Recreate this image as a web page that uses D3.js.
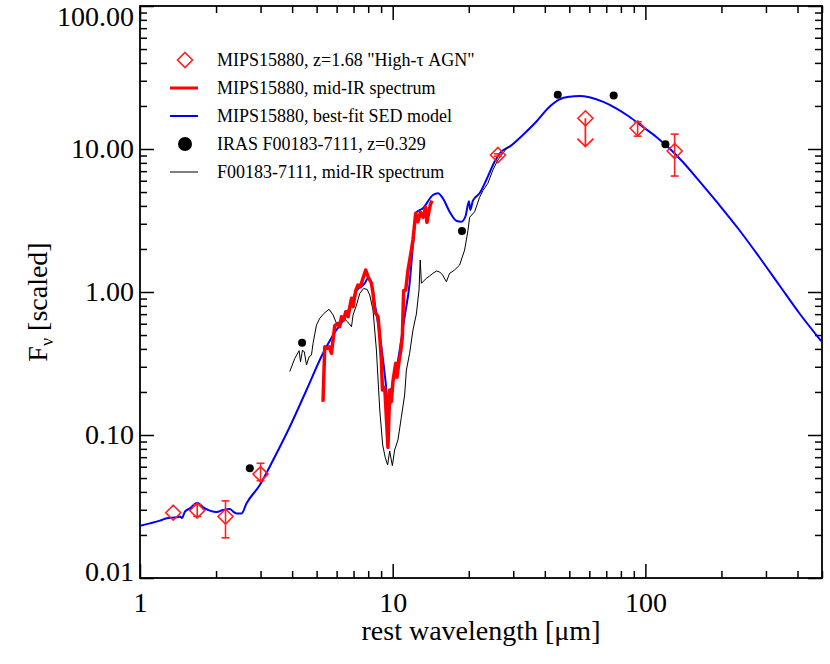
<!DOCTYPE html>
<html>
<head>
<meta charset="utf-8">
<script src="https://cdn.jsdelivr.net/npm/d3@7"></script>
<style>
  body { margin: 0; background: #fff; }
  svg { display: block; }
  text { font-family: "Liberation Serif", "DejaVu Serif", serif; }
</style>
</head>
<body>
<svg id="chart" width="830" height="664"></svg>
<script>
// best-fit SED model  [rest wavelength (um), F_nu]
const sedModel = [
  [1.00,0.0232],[1.095,0.0241],[1.20,0.0252],[1.275,0.0262],[1.397,0.0266],[1.439,0.0269],[1.466,0.0263],
  [1.506,0.0291],[1.576,0.0307],[1.684,0.0336],[1.779,0.0312],[1.891,0.0296],[2.01,0.0289],[2.134,0.0299],
  [2.268,0.0304],[2.338,0.0291],[2.411,0.0283],[2.523,0.0283],[2.641,0.0333],[2.98,0.0447],[3.365,0.0669],
  [3.916,0.1143],[4.56,0.2064],[5.30,0.3726],[5.81,0.5005],[6.56,0.6906],[7.19,1.021],[7.75,1.150],
  [7.99,1.247],[8.24,1.150],[8.49,0.834],[8.75,0.604],[9.16,0.3345],[9.44,0.2064],[9.58,0.1496],
  [9.69,0.145],[9.88,0.204],[10.28,0.270],[10.66,0.393],[11.15,0.672],[11.67,1.150],[12.03,2.13],
  [12.41,3.61],[13.18,3.85],[14.43,4.77],[15.10,4.90],[15.80,4.52],[16.80,3.64],[17.86,3.15],
  [18.69,3.10],[19.43,3.40],[20.03,4.31],[20.28,3.75],[20.77,4.35],[22.07,4.90],[23.47,6.07],
  [25.30,8.15],[26.89,9.57],[29.01,10.38],[32.73,12.53],[36.98,15.52],[41.74,19.76],[45.72,22.27],
  [50.07,23.21],[54.83,23.48],[60.07,22.99],[67.80,21.42],[76.61,19.26],[86.47,16.82],[97.57,14.32],
  [110.2,12.19],[124.4,10.11],[140.4,8.15],[163.5,5.97],[196.1,4.06],[235.3,2.714],[282.2,1.757],
  [338.5,1.119],[406.1,0.713],[496.3,0.454]
];

// MIPS15880 mid-IR spectrum
const mipsSpec = [
  [5.30,0.171],[5.385,0.414],[5.499,0.404],[5.60,0.414],[5.724,0.373],[5.899,0.581],[6.078,0.604],
  [6.173,0.572],[6.269,0.672],[6.402,0.637],[6.52,0.728],[6.66,0.672],[6.87,0.903],[6.97,0.789],
  [7.14,1.021],[7.29,1.119],[7.45,1.089],[7.59,1.213],[7.82,1.425],[7.99,1.279],[8.24,1.150],
  [8.36,0.979],[8.49,0.728],[8.75,0.672],[8.89,0.487],[9.02,0.3345],[9.11,0.2064],[9.30,0.2157],
  [9.44,0.133],[9.58,0.082],[9.73,0.2064],[9.88,0.171],[10.03,0.2397],[10.28,0.317],[10.40,0.2532],
  [10.59,0.3256],[10.75,0.3805],[10.92,0.487],[11.05,1.021],[11.26,1.033],[11.50,1.425],[11.86,1.966],
  [12.03,2.31],[12.33,3.55],[12.59,3.10],[12.87,3.61],[13.18,3.33],[13.50,3.91],[13.66,3.07],
  [13.91,3.64],[14.09,4.06],[14.30,4.35]
];

// F00183-7111 mid-IR spectrum
const irasSpec = [
  [3.916,0.278],[4.10,0.344],[4.262,0.3886],[4.317,0.3256],[4.397,0.393],[4.47,0.3805],[4.56,0.3087],
  [4.67,0.3529],[4.77,0.3625],[4.84,0.4378],[4.994,0.5877],[5.147,0.655],[5.352,0.710],[5.60,0.757],
  [5.81,0.691],[5.99,0.604],[6.17,0.617],[6.40,0.658],[6.64,0.617],[6.87,0.572],[6.97,0.691],
  [7.19,0.811],[7.41,0.979],[7.68,1.058],[7.93,1.041],[8.11,0.953],[8.36,0.748],[8.62,0.393],
  [8.89,0.1496],[9.13,0.0851],[9.34,0.0698],[9.55,0.0617],[9.73,0.0773],[9.97,0.061],[10.18,0.0786],
  [10.49,0.0923],[10.82,0.133],[11.15,0.1905],[11.33,0.2848],[11.67,0.3726],[12.03,0.5425],
  [12.41,0.702],[12.71,1.033],[12.85,1.674],[12.99,1.150],[13.59,1.247],[14.00,1.294],[14.43,1.351],
  [14.92,1.403],[15.34,1.380],[15.76,1.315],[16.31,1.180],[16.80,1.351],[17.58,1.425],[18.40,1.544],
  [19.26,1.966],[19.85,2.684],[20.16,3.33],[21.10,3.64],[22.07,4.59],[22.75,5.11],[23.81,5.76],
  [24.91,7.13],[26.08,8.38],[27.29,9.33],[28.56,10.38]
];

// MIPS15880 photometry: wavelength, flux, lower, upper
const photLam = [1.354, 1.684, 2.18, 3.0, 26.1, 93.2, 130.6];
const photF   = [0.0286, 0.0296, 0.0269, 0.0533, 9.08, 13.96, 9.68];
const photLo  = [0.0286, 0.0270, 0.0191, 0.0479, 8.90, 12.3, 6.47];
const photHi  = [0.0286, 0.0326, 0.0346, 0.0634, 9.25, 15.5, 12.7];

// upper limit: wavelength, limit, arrow tip
const limLam = [57.9];
const limF   = [16.4];
const limTip = [10.4];

// IRAS F00183-7111 photometry
const irasLam = [2.72, 4.38, 18.8, 45.0, 74.9, 120];
const irasF   = [0.0585, 0.442, 2.67, 24.0, 23.7, 10.8];

const yTickLabels = ['0.01', '0.10', '1.00', '10.00', '100.00'];
const xTickLabels = ['1', '10', '100'];

const legendLabels = [
  'MIPS15880, z=1.68 "High-\u03c4 AGN"',
  'MIPS15880, mid-IR spectrum',
  'MIPS15880, best-fit SED model',
  'IRAS F00183-7111, z=0.329',
  'F00183-7111, mid-IR spectrum'
];

const mLeft = 140, mRight = 822, mTop = 6, mBottom = 578;

const x = d3.scaleLog().domain([1, 500]).range([mLeft, mRight]);
const y = d3.scaleLog().domain([0.01, 100]).range([mBottom, mTop]);

const svg = d3.select('#chart');

svg.append('clipPath').attr('id', 'clip')
  .append('rect')
  .attr('x', mLeft).attr('y', mTop)
  .attr('width', mRight - mLeft).attr('height', mBottom - mTop);

const xMajor = [1, 10, 100];
const xMinor = x.ticks().filter(d => !xMajor.includes(d));
const yMajor = [0.01, 0.1, 1, 10, 100];
const yMinor = y.ticks().filter(d => !yMajor.some(m => Math.abs(m - d) < 1e-9));

function styleAxis(g) {
  g.selectAll('path').remove();
  g.selectAll('line').attr('stroke', '#000').attr('stroke-width', 1.5);
  g.selectAll('text').attr('fill', '#000').attr('font-size', 28)
    .attr('font-family', '"Liberation Serif", serif');
}

// bottom axis
svg.append('g').attr('transform', `translate(0,${mBottom})`)
  .call(d3.axisBottom(x).tickValues(xMajor).tickSize(-14).tickPadding(14)
    .tickFormat((d, i) => xTickLabels[i]))
  .call(styleAxis);
svg.append('g').attr('transform', `translate(0,${mBottom})`)
  .call(d3.axisBottom(x).tickValues(xMinor).tickSize(-7).tickFormat(''))
  .call(styleAxis);
// top axis
svg.append('g').attr('transform', `translate(0,${mTop})`)
  .call(d3.axisTop(x).tickValues(xMajor).tickSize(-14).tickFormat(''))
  .call(styleAxis);
svg.append('g').attr('transform', `translate(0,${mTop})`)
  .call(d3.axisTop(x).tickValues(xMinor).tickSize(-7).tickFormat(''))
  .call(styleAxis);
// left axis
const yAxisG = svg.append('g').attr('transform', `translate(${mLeft},0)`)
  .call(d3.axisLeft(y).tickValues(yMajor).tickSize(-14).tickPadding(6)
    .tickFormat((d, i) => yTickLabels[i]))
  .call(styleAxis);
yAxisG.selectAll('text').attr('dy', (d) => d === 100 ? '0.68em' : d === 0.01 ? '0.1em' : '0.32em');
svg.append('g').attr('transform', `translate(${mLeft},0)`)
  .call(d3.axisLeft(y).tickValues(yMinor).tickSize(-7).tickFormat(''))
  .call(styleAxis);
// right axis
svg.append('g').attr('transform', `translate(${mRight},0)`)
  .call(d3.axisRight(y).tickValues(yMajor).tickSize(-14).tickFormat(''))
  .call(styleAxis);
svg.append('g').attr('transform', `translate(${mRight},0)`)
  .call(d3.axisRight(y).tickValues(yMinor).tickSize(-7).tickFormat(''))
  .call(styleAxis);

// frame
svg.append('rect')
  .attr('x', mLeft).attr('y', mTop)
  .attr('width', mRight - mLeft).attr('height', mBottom - mTop)
  .attr('fill', 'none').attr('stroke', '#000').attr('stroke-width', 1.8);

const plot = svg.append('g').attr('clip-path', 'url(#clip)');

const line = d3.line().x(d => x(d[0])).y(d => y(d[1]));

plot.append('path').datum(sedModel)
  .attr('d', line.curve(d3.curveMonotoneX))
  .attr('fill', 'none').attr('stroke', '#0000ff').attr('stroke-width', 2);

line.curve(d3.curveLinear);

plot.append('path').datum(irasSpec)
  .attr('d', line)
  .attr('fill', 'none').attr('stroke', '#000').attr('stroke-width', 1);

plot.append('path').datum(mipsSpec)
  .attr('d', line)
  .attr('fill', 'none').attr('stroke', '#ff0000').attr('stroke-width', 3.5)
  .attr('stroke-linejoin', 'round');

// IRAS points
plot.selectAll('.iras')
  .data(irasLam)
  .join('circle')
  .attr('cx', d => x(d))
  .attr('cy', (d, i) => y(irasF[i]))
  .attr('r', 4)
  .attr('fill', '#000');

const dsize = 7.5;
const diamond = (cx, cy, s) => `M${cx},${cy - s}L${cx + s},${cy}L${cx},${cy + s}L${cx - s},${cy}Z`;

// error bars
const err = plot.append('g').attr('stroke', '#ff2020').attr('stroke-width', 1.6).attr('fill', 'none');
photLam.forEach((l, i) => {
  if (photLo[i] === photHi[i]) return;
  const cx = x(l);
  err.append('line').attr('x1', cx).attr('x2', cx).attr('y1', y(photLo[i])).attr('y2', y(photHi[i]));
  [photLo[i], photHi[i]].forEach(v => {
    err.append('line').attr('x1', cx - 4).attr('x2', cx + 4).attr('y1', y(v)).attr('y2', y(v));
  });
});

// diamonds
plot.selectAll('.phot')
  .data(photLam)
  .join('path')
  .attr('d', (d, i) => diamond(x(d), y(photF[i]), dsize))
  .attr('fill', 'none').attr('stroke', '#ff2020').attr('stroke-width', 1.6);

// upper limit
limLam.forEach((l, i) => {
  const cx = x(l), cy = y(limF[i]), ty = y(limTip[i]);
  plot.append('path').attr('d', diamond(cx, cy, dsize))
    .attr('fill', 'none').attr('stroke', '#ff2020').attr('stroke-width', 1.6);
  plot.append('path')
    .attr('d', `M${cx},${cy}L${cx},${ty}M${cx - 8},${ty - 8}L${cx},${ty}L${cx + 8},${ty - 8}`)
    .attr('fill', 'none').attr('stroke', '#ff2020').attr('stroke-width', 1.8);
});

// legend
const lg = svg.append('g');
const lx = 185, ly0 = 60, ldy = 28;
lg.selectAll('text')
  .data(legendLabels)
  .join('text')
  .attr('x', 217)
  .attr('y', (d, i) => ly0 + i * ldy)
  .attr('dy', '0.35em')
  .attr('font-size', 18)
  .attr('fill', '#000')
  .text(d => d);
lg.append('path').attr('d', diamond(lx, ly0, 7.5))
  .attr('fill', 'none').attr('stroke', '#ff2020').attr('stroke-width', 1.6);
lg.append('line').attr('x1', 170).attr('x2', 198).attr('y1', ly0 + ldy).attr('y2', ly0 + ldy)
  .attr('stroke', '#ff0000').attr('stroke-width', 3);
lg.append('line').attr('x1', 170).attr('x2', 198).attr('y1', ly0 + 2 * ldy).attr('y2', ly0 + 2 * ldy)
  .attr('stroke', '#0000ff').attr('stroke-width', 2);
lg.append('circle').attr('cx', lx).attr('cy', ly0 + 3 * ldy).attr('r', 7).attr('fill', '#000');
lg.append('line').attr('x1', 170).attr('x2', 198).attr('y1', ly0 + 4 * ldy).attr('y2', ly0 + 4 * ldy)
  .attr('stroke', '#000').attr('stroke-width', 1);

// axis titles
svg.append('text')
  .attr('x', (mLeft + mRight) / 2).attr('y', 640)
  .attr('text-anchor', 'middle')
  .attr('font-size', 28)
  .text('rest wavelength [\u03bcm]');

const yt = svg.append('text')
  .attr('transform', 'translate(47,302) rotate(-90)')
  .attr('text-anchor', 'middle')
  .attr('font-size', 28);
yt.append('tspan').text('F');
yt.append('tspan').attr('dy', 6).attr('font-size', 18).text('\u03bd');
yt.append('tspan').attr('dy', -6).text(' [scaled]');
</script>
</body>
</html>
